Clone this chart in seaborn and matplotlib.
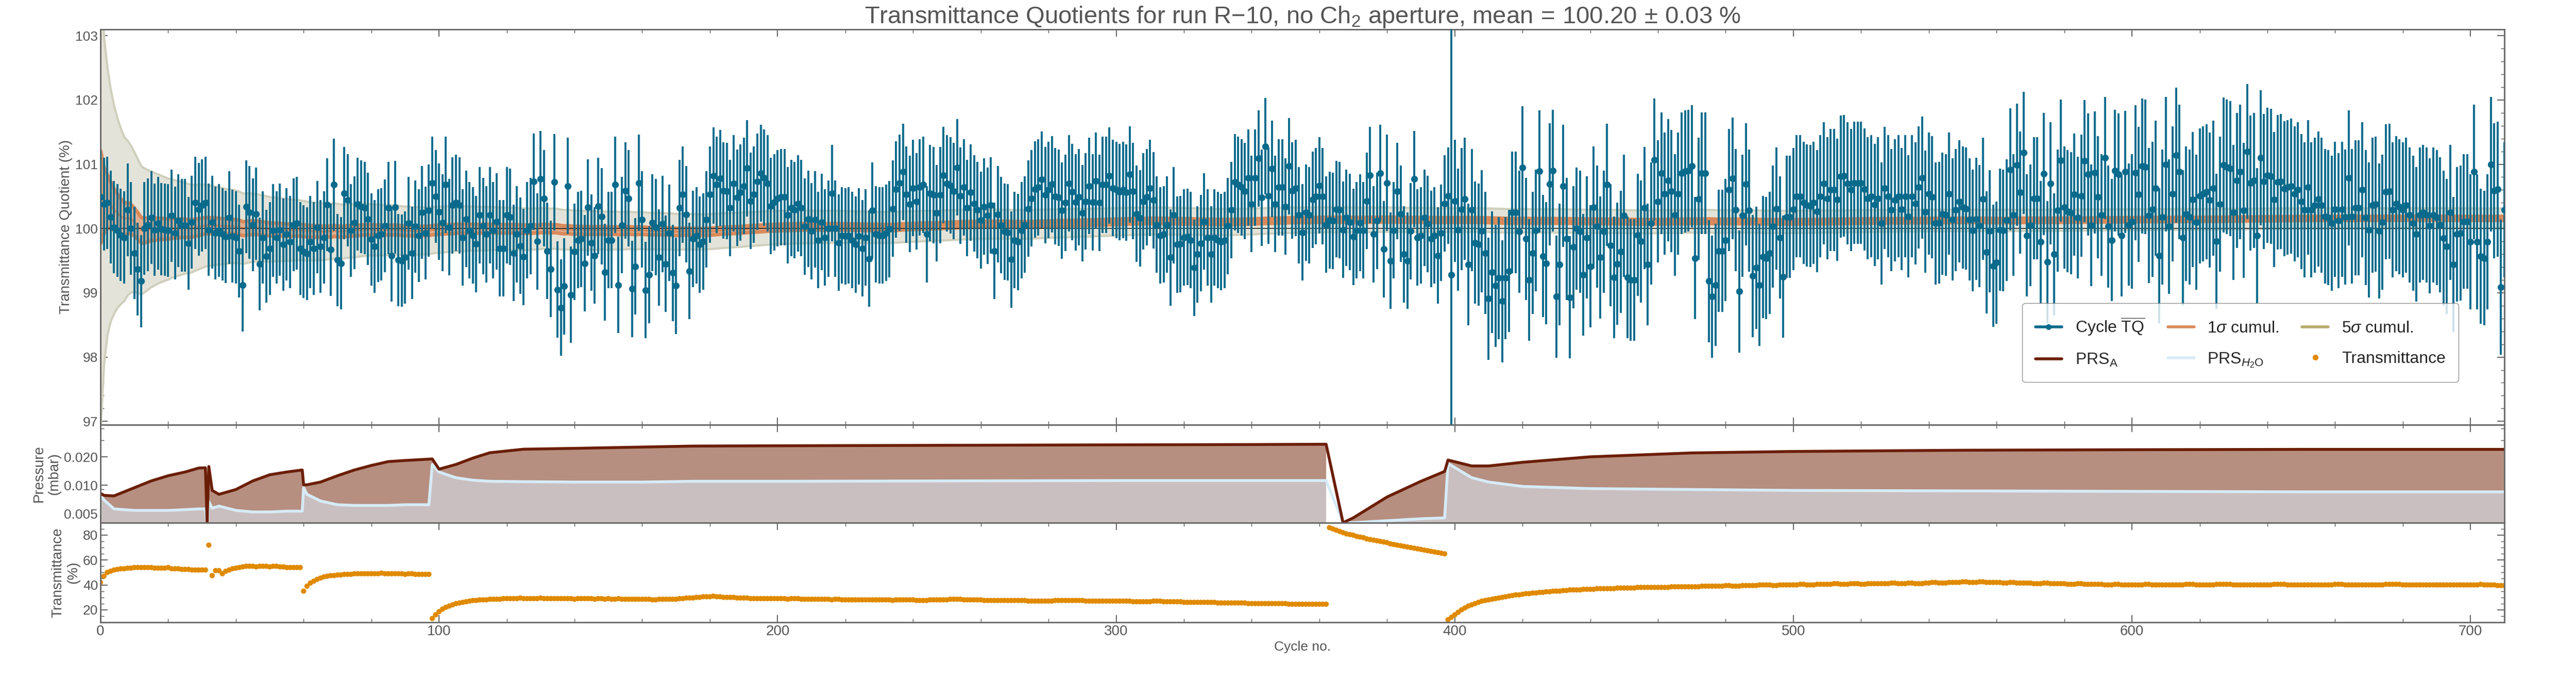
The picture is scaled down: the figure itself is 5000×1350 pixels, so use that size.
import numpy as np
import seaborn as sns
import matplotlib
matplotlib.use('Agg')
import matplotlib.pyplot as plt
from matplotlib.lines import Line2D
from matplotlib.ticker import FixedLocator, MultipleLocator, LogLocator, NullFormatter

# transmittance quotient per cycle (%)
tq = [
    100.49, 100.38, 100.40, 100.18, 100.02, 99.97, 99.90, 99.86, 100.29, 100.00,
    99.62, 99.37, 99.18, 100.00, 100.06, 100.17, 99.98, 100.08, 99.99, 99.98,
    99.97, 100.20, 99.93, 100.12, 100.05, 100.05, 99.77, 100.10, 100.40, 100.30,
    100.36, 100.40, 99.98, 100.10, 99.93, 99.97, 99.91, 99.87, 100.17, 99.88,
    99.86, 99.65, 99.12, 100.34, 100.25, 100.06, 100.23, 99.45, 99.86, 99.57,
    99.69, 99.97, 99.86, 99.98, 99.75, 99.91, 99.79, 100.06, 100.08, 99.69,
    99.64, 99.61, 99.79, 99.69, 100.02, 99.72, 99.86, 100.37, 99.67, 100.68,
    99.51, 99.46, 100.55, 100.44, 99.97, 100.09, 100.38, 100.34, 100.32, 100.15,
    99.83, 99.72, 99.89, 99.91, 100.04, 100.32, 99.58, 100.33, 99.51, 99.50,
    99.55, 100.08, 99.62, 100.03, 99.89, 100.25, 99.93, 100.28, 100.71, 100.50,
    100.26, 100.09, 100.68, 100.02, 100.36, 100.40, 100.36, 99.86, 100.15, 99.97,
    99.89, 99.76, 100.21, 100.04, 99.91, 100.21, 99.97, 100.11, 99.69, 99.69,
    100.21, 100.18, 99.62, 99.91, 99.73, 99.56, 99.97, 100.04, 100.73, 99.80,
    100.77, 100.47, 99.65, 99.37, 100.72, 99.05, 98.77, 99.10, 100.66, 98.97,
    99.64, 99.82, 99.84, 99.46, 100.33, 99.78, 99.58, 100.35, 100.19, 99.32,
    99.82, 99.82, 100.68, 99.12, 100.05, 100.59, 100.47, 99.06, 99.41, 100.71,
    100.14, 99.04, 99.28, 100.09, 100.02, 99.55, 100.07, 99.45, 99.93, 99.31,
    99.11, 100.32, 100.53, 100.22, 99.34, 99.84, 99.89, 99.75, 99.80, 100.14,
    100.53, 100.82, 100.68, 100.78, 100.59, 100.58, 100.32, 100.70, 100.48, 100.56,
    100.66, 100.94, 100.43, 100.53, 100.73, 100.86, 100.79, 100.70, 100.35, 100.41,
    100.47, 100.49, 100.49, 100.21, 100.32, 100.29, 100.39, 100.32, 100.03, 100.15,
    99.96, 100.14, 99.82, 100.10, 99.86, 100.00, 100.55, 100.00, 99.78, 99.89,
    99.88, 99.89, 99.82, 99.75, 99.88, 99.69, 99.86, 99.53, 100.28, 99.91,
    99.89, 99.89, 99.93, 99.99, 100.31, 100.61, 100.71, 100.88, 100.53, 100.38,
    100.63, 100.42, 100.64, 100.68, 99.91, 100.55, 100.52, 100.24, 100.52, 100.83,
    100.70, 100.67, 100.58, 100.95, 100.51, 100.64, 100.32, 100.56, 100.39, 100.29,
    100.13, 100.34, 100.20, 100.36, 99.65, 100.22, 100.05, 99.95, 99.94, 99.52,
    99.82, 99.79, 99.97, 100.06, 100.31, 100.47, 100.61, 100.64, 100.76, 100.52,
    100.60, 100.69, 100.50, 100.48, 100.28, 100.40, 100.70, 100.57, 100.41, 100.49,
    100.24, 100.42, 100.66, 100.41, 100.74, 100.40, 100.68, 100.68, 100.82, 100.63,
    100.60, 100.57, 100.60, 100.56, 100.84, 100.58, 100.23, 100.16, 100.42, 100.49,
    100.63, 100.44, 100.06, 99.89, 99.91, 100.06, 99.55, 100.21, 99.75, 99.76,
    99.86, 99.87, 99.82, 99.39, 99.60, 99.77, 100.11, 99.86, 99.60, 99.86,
    99.82, 99.79, 99.82, 100.04, 100.29, 100.72, 100.68, 100.64, 100.58, 100.79,
    100.38, 100.79, 101.09, 100.48, 101.28, 100.51, 100.93, 100.38, 100.64, 100.64,
    100.34, 100.97, 100.59, 100.63, 100.21, 99.94, 100.25, 100.21, 100.45, 100.50,
    100.67, 100.50, 100.06, 100.13, 100.12, 100.30, 100.29, 99.98, 100.17, 100.10,
    99.87, 99.97, 100.09, 99.97, 100.43, 100.83, 99.91, 100.12, 100.86, 99.68,
    100.71, 99.50, 99.97, 100.58, 100.23, 99.60, 99.50, 99.96, 100.77, 99.86,
    99.89, 100.17, 100.07, 99.84, 99.89, 99.58, 99.93, 100.39, 100.51, 99.28,
    100.43, 99.98, 100.30, 100.46, 99.44, 100.29, 99.78, 99.75, 99.96, 99.62,
    98.91, 99.32, 99.11, 99.23, 98.87, 99.23, 99.34, 100.25, 100.25, 99.95,
    100.95, 99.84, 99.20, 99.62, 99.97, 100.89, 99.57, 99.46, 100.69, 100.90,
    98.94, 99.44, 100.66, 99.84, 98.93, 99.71, 100.00, 99.95, 99.28, 99.86,
    99.41, 100.33, 100.03, 99.55, 99.95, 100.68, 99.74, 99.24, 99.45, 99.64,
    100.20, 99.24, 99.20, 99.20, 99.90, 99.80, 100.32, 99.44, 100.08, 101.07,
    100.42, 100.86, 100.54, 100.75, 100.58, 100.21, 100.54, 100.86, 100.89, 100.90,
    100.97, 99.54, 100.46, 100.86, 100.86, 99.18, 98.94, 99.12, 99.65, 99.65,
    99.82, 100.60, 100.78, 100.29, 99.02, 100.20, 100.69, 100.28, 99.26, 99.39,
    99.12, 99.56, 99.54, 99.62, 100.03, 100.31, 99.86, 99.25, 100.18, 100.18,
    100.30, 100.50, 100.50, 100.40, 100.36, 100.35, 100.40, 100.27, 100.50, 100.70,
    100.47, 100.60, 100.60, 100.45, 100.81, 100.82, 100.70, 100.60, 100.71, 100.71,
    100.71, 100.61, 100.47, 100.50, 100.37, 100.47, 100.08, 100.63, 100.50, 100.29,
    100.44, 100.50, 100.30, 100.50, 100.19, 100.50, 100.39, 100.64, 100.79, 100.26,
    100.54, 100.49, 100.08, 100.09, 100.23, 100.21, 100.54, 100.14, 100.29, 100.42,
    100.33, 100.31, 100.14, 99.97, 100.15, 100.04, 100.46, 99.63, 99.96, 99.42,
    99.47, 99.98, 99.97, 100.13, 100.92, 100.21, 100.99, 100.56, 101.18, 99.89,
    100.05, 100.47, 100.47, 99.79, 100.85, 99.48, 100.70, 99.60, 100.28, 101.06,
    100.33, 100.27, 100.24, 100.53, 100.17, 100.51, 101.05, 100.84, 100.05, 100.87,
    100.49, 100.21, 101.10, 100.03, 99.82, 100.90, 100.84, 99.89, 100.88, 100.06,
    100.11, 100.87, 100.53, 100.97, 100.96, 100.20, 100.30, 100.63, 99.58, 100.18,
    101.00, 100.03, 100.54, 101.14, 100.88, 99.86, 100.23, 100.18, 100.45, 100.10,
    100.51, 100.54, 100.57, 100.44, 100.63, 99.80, 100.38, 100.99, 100.96, 100.93,
    100.25, 100.75, 100.88, 100.28, 101.20, 100.71, 100.75, 99.89, 101.10, 100.73,
    100.83, 100.81, 100.45, 100.72, 100.73, 100.62, 100.64, 100.66, 100.54, 100.60,
    100.42, 100.29, 100.64, 100.29, 100.36, 100.46, 100.36, 100.19, 100.17, 100.08,
    100.30, 100.12, 100.30, 100.18, 100.79, 100.19, 100.32, 100.32, 100.60, 100.17,
    99.98, 100.36, 100.38, 99.96, 100.10, 100.57, 100.58, 100.29, 100.39, 100.34,
    100.29, 100.36, 100.21, 100.08, 99.91, 100.21, 100.25, 100.21, 100.04, 100.21,
    100.17, 100.06, 99.85, 99.72, 100.25, 99.44, 99.91, 99.93, 100.11, 100.11,
    99.79, 100.88, 99.79, 99.57, 99.54, 99.79, 101.00, 100.59, 100.61, 99.09,
    100.29,
]
# error bar half widths, read per block of cycles
err_block_start = [0, 100, 200, 300, 400, 500, 600]
err_block_value = [0.72, 0.75, 0.75, 0.75, 0.95, 0.95, 1.05]
err_big_cycle = 399
err_big_value = 4.0

# transmittance per cycle (%)
transmittance = [
    42, 47, 50, 51, 52, 52.5, 53, 53, 53.5, 53.5, 54, 54, 54, 54, 54, 54, 53.5, 53.5, 53.5, 53.5,
    54, 53, 53, 53, 52.5, 52.5, 52.5, 52, 52, 52, 52, 52,
    72,
    47.5, 51.5, 51.5, 49, 51, 52, 53, 53.5, 54, 54.5, 55, 55, 55, 54.5, 55, 55, 55, 54.5, 55, 55,
    54.5, 54.5, 54, 54, 54, 54, 54,
    35, 39, 41.5, 43, 44.5, 45.5, 46.5, 47, 47.5, 47.5, 48, 48, 48.5, 48.5, 48.5, 49, 49, 49, 49, 49,
    49, 49, 49, 49.5, 49, 49, 49, 49, 49, 49, 48.5, 49, 49, 48.5, 48.5, 48.5, 48.5, 48.5,
    13, 16, 18.5, 20.5, 22, 23, 24, 25, 25.5, 26, 26.5, 27, 27.5, 27.5, 28, 28, 28, 28.5, 28.5, 28.5,
    28.5, 29, 29, 29, 29, 29, 29.5, 29, 29, 29, 29, 29, 29.5, 29, 29, 29, 29, 29, 29, 29,
    29, 29, 28.5, 29, 29, 29, 29, 29, 28.5, 29, 29, 28.5, 29, 28.5, 28.5, 29, 28.5, 28.5, 28.5, 28.5,
    28.5, 28.5, 28.5, 28.5, 28.5, 28, 28, 28.5, 28.5, 28.5, 28.5, 28.5, 28.5, 29, 29, 29.5, 29.5, 29.5, 30, 30,
    30.5, 30.5, 30.5, 31, 30.5, 30.5, 30, 30, 30, 30, 29.5, 29.5, 29.5, 29.5, 29, 29, 29, 29, 29, 29,
    29, 29, 29, 29, 29, 28.5, 29, 29, 29, 28.5, 28.5, 28.5, 28.5, 28.5, 28.5, 28.5, 28.5, 28.5, 28, 28.5,
    28.5, 28, 28, 28, 28, 28, 28, 28, 28, 28, 28, 28, 28, 28, 28, 28, 27.5, 28, 28, 28,
    28, 28, 28, 27.5, 27.5, 27.5, 27.5, 28, 28, 28, 28, 28, 28, 28.5, 28.5, 28.5, 28.5, 28, 28, 28,
    28, 28, 28, 27.5, 27.5, 27.5, 27.5, 27.5, 27.5, 27.5, 27.5, 27.5, 27.5, 27.5, 27.5, 27.5, 27, 27, 27, 27,
    27, 27, 27, 27, 27.5, 27.5, 27.5, 27.5, 27.5, 27.5, 27.5, 27.5, 27.5, 27, 27, 27, 27, 27, 27, 27,
    27, 27, 27, 27, 27, 27, 27, 26.5, 26.5, 26.5, 26.5, 26.5, 26.5, 27, 27, 27, 26.5, 26.5, 26.5, 26.5,
    26.5, 26.5, 26, 26, 26, 26, 26, 26, 26, 26, 26, 26, 25.5, 25.5, 25.5, 25.5, 25.5, 25.5, 25.5, 25.5,
    25.5, 25, 25, 25, 25, 25, 25, 25, 25, 25, 25, 25, 25, 24.5, 24.5, 24.5, 24.5, 24.5, 24.5, 24.5,
    24.5, 24.5, 24.5, 24.5, 24.5,
    86, 85, 84, 83, 82, 81, 80.5, 80, 79, 78.5, 78, 77, 76.5, 76, 75.5, 75, 74.5, 74, 73, 72.5,
    72, 71.5, 71, 70.5, 70, 69.5, 69, 68.5, 68, 67.5, 67, 66.5, 66, 65.5, 65,
    12, 14, 16, 18, 20, 21.5, 23, 24, 25, 26, 27, 27.5, 28, 28.5, 29, 29.5, 30, 30.5, 31, 31.5,
    32, 32, 32.5, 33, 33, 33.5, 33.5, 34, 34, 34.5, 34.5, 35, 35, 35, 35.5, 35.5, 36, 36, 36, 36,
    36.5, 36.5, 36.5, 36.5, 37, 37, 37, 37, 37, 37, 37.5, 37.5, 37.5, 37.5, 37.5, 37.5, 38, 38, 38, 38,
    38, 38, 38, 38, 38, 38, 38.5, 38.5, 38.5, 38.5, 38.5, 38.5, 38.5, 38.5, 38.5, 39, 39, 39, 39, 39,
    39, 39, 39.5, 39.5, 39, 39, 39, 39.5, 39.5, 39.5, 39.5, 39.5, 40, 40, 40, 40, 39.5, 39.5, 40, 40,
    40, 40, 40, 40, 40.5, 40.5, 40, 40, 40, 40.5, 40.5, 40.5, 40.5, 40.5, 41, 41, 40.5, 40.5, 40.5, 41,
    41, 41, 40.5, 40.5, 41, 41, 41, 41, 41, 41, 41, 41.5, 41.5, 41, 41, 41, 41.5, 41.5, 41, 41,
    41, 41.5, 41.5, 42, 42, 41.5, 41.5, 41.5, 42, 42, 42, 42, 42.5, 42.5, 42, 42, 42, 42.5, 42.5, 42,
    42, 42, 42, 42, 41.5, 41.5, 42, 42, 41.5, 41.5, 41.5, 41.5, 41.5, 41, 41, 41, 41.5, 41.5, 41, 41,
    41, 41, 41, 40.5, 40.5, 40.5, 41, 41, 40.5, 40.5, 40.5, 40.5, 40.5, 40.5, 40, 40, 40, 40.5, 40.5, 40,
    40, 40, 40, 40, 40, 40, 40.5, 40.5, 40, 40, 40, 40, 40, 40, 40, 40, 40, 40, 40.5, 40.5,
    40.5, 40, 40, 40, 40, 40, 40, 40.5, 40.5, 40.5, 40.5, 40.5, 40, 40, 40, 40, 40, 40, 40, 40,
    40, 40, 40, 40, 40.5, 40.5, 40.5, 40.5, 40, 40, 40, 40, 40, 40, 40, 40, 40, 40, 40, 40,
    40, 40, 40.5, 40.5, 40.5, 40, 40, 40, 40, 40, 40, 40, 40, 40, 40, 40, 40, 40.5, 40.5, 40.5,
    40.5, 40.5, 40, 40, 40, 40, 40, 40, 40, 40, 40, 40, 40, 40, 40, 40, 40, 40, 40, 40,
    40, 40, 40, 40, 40, 40.5, 40, 40, 40, 40, 39.5, 39.5, 39.5,
]

# pressure readings (mbar) at selected cycles
prs_cycle = [0, 1, 4, 10, 15, 20, 25, 29, 31, 31.5, 32, 33, 35, 40, 45, 50, 55, 59.6, 60, 61,
             65, 70, 75, 80, 85, 90, 97, 98, 100, 105, 110, 115, 125, 140, 160, 175, 200, 250,
             300, 340, 362, 364, 367, 370, 380, 390, 397, 398, 405, 410, 420, 440, 470, 500,
             550, 600, 650, 700, 710]
prs_a = [.0082, .0078, .0077, .0094, .0111, .0126, .0138, .0152, .0153, .0040, .0158, .0088,
         .0080, .0090, .0111, .0129, .0138, .0145, .0101, .0101, .0108, .0126, .0145, .0162,
         .0178, .0183, .0189, .0190, .0148, .0166, .0194, .0221, .0241, .0246, .0254, .0260,
         .0262, .0265, .0268, .0270, .0272, np.nan, .0040, .0045, .0075, .0110, .0140, .0185,
         .0160, .0160, .0175, .0200, .0220, .0228, .0235, .0238, .0240, .0240, .0240]
prs_h2o = [.0081, .0070, .0056, .0054, .0054, .0054, .0055, .0056, .0056, .0040, .0067, .0057,
           .0060, .0054, .0052, .0052, .0053, .0053, .0094, .0080, .0068, .0062, .0061, .0061,
           .0061, .0062, .0062, .0166, .0138, .0120, .0113, .0110, .0109, .0108, .0108, .0110,
           .0110, .0111, .0112, .0112, .0112, np.nan, .0040, .0040, .0042, .0044, .0045, .0170,
           .0120, .0108, .0097, .0092, .0090, .0088, .0087, .0086, .0085, .0085, .0085]

title = r'Transmittance Quotients for run R$-$10, no Ch$_2$ aperture, mean$\,=\,$100.20$\,\pm$'
c_tq = '#0a6a8c'
c_1s = '#d9895a'
c_5s = '#b8ab6c'
c_a = '#6b1e06'
c_h = '#d6ebf7'
c_tr = '#e08a00'
c_txt = '#555555'

sns.set_style('ticks')
plt.rcParams['font.family'] = ['Liberation Sans', 'DejaVu Sans']
plt.rcParams['mathtext.fontset'] = 'custom'
plt.rcParams['mathtext.rm'] = 'Liberation Sans'
plt.rcParams['mathtext.it'] = 'Liberation Sans:italic'

cycles = np.arange(len(tq))
tq_arr = np.array(tq)
err = np.array(err_block_value)[np.searchsorted(err_block_start, cycles, side='right') - 1]
err[err_big_cycle] = err_big_value

# cumulative weighted mean and its uncertainty
w = 1 / err ** 2
cum_mean = np.cumsum(w * tq_arr) / np.cumsum(w)
cum_sig = 1 / np.sqrt(np.cumsum(w))

fig = plt.figure(figsize=(50, 13.5), dpi=100)
left, width = 0.039, 0.9332
ax1 = fig.add_axes([left, 0.390, width, 0.568])
ax2 = fig.add_axes([left, 0.249, width, 0.141], sharex=ax1)
ax3 = fig.add_axes([left, 0.106, width, 0.143], sharex=ax1)

# main panel
ax1.fill_between(cycles, cum_mean - 5 * cum_sig, cum_mean + 5 * cum_sig,
                 color='#e3e3d9', edgecolor='#cfcfbd', linewidth=3, zorder=1)
ax1.fill_between(cycles, cum_mean - cum_sig, cum_mean + cum_sig,
                 color='#dfae90', edgecolor=c_1s, linewidth=5, zorder=2)
ax1.plot(cycles, cum_mean, color=c_1s, lw=3, zorder=2)
ax1.axhline(100, color='#222222', lw=1.2, zorder=3)
ax1.errorbar(cycles, tq_arr, yerr=err, fmt='o', color=c_tq, ms=8.5, elinewidth=2.8,
             capsize=0, zorder=4)
ax1.set_ylim(96.95, 103.1)
ax1.set_yticks([97, 98, 99, 100, 101, 102, 103])
ax1.yaxis.set_minor_locator(MultipleLocator(0.2))
ax1.set_ylabel('Transmittance Quotient (%)', fontsize=20, color=c_txt)
ax1.set_title(title + r'$\,$0.03 %', fontsize=34, color=c_txt, pad=6)

# pressure panel
pc = np.array(prs_cycle)
pa = np.array(prs_a)
ph = np.array(prs_h2o)
ok = ~np.isnan(pa)
ax2.fill_between(pc, 1e-4, pa, where=ok, color='#b68f80', lw=0, interpolate=False)
ax2.fill_between(pc, 1e-4, ph, where=ok, color='#cabfc0', lw=0, interpolate=False)
sns.lineplot(x=pc, y=ph, ax=ax2, color=c_h, lw=4, sort=False)
sns.lineplot(x=pc, y=pa, ax=ax2, color=c_a, lw=4, sort=False)
ax2.set_yscale('log')
ax2.set_ylim(0.004, 0.044)
ax2.yaxis.set_major_locator(FixedLocator([0.005, 0.010, 0.020]))
ax2.yaxis.set_major_formatter(matplotlib.ticker.FixedFormatter(['0.005', '0.010', '0.020']))
ax2.yaxis.set_minor_locator(LogLocator(subs=np.arange(1, 10)))
ax2.yaxis.set_minor_formatter(NullFormatter())
ax2.set_ylabel('Pressure\n(mbar)', fontsize=20, color=c_txt)

# transmittance panel
sns.scatterplot(x=cycles, y=transmittance, ax=ax3, color=c_tr, s=55, edgecolor='none')
ax3.set_ylim(10, 90)
ax3.set_yticks([20, 40, 60, 80])
ax3.yaxis.set_minor_locator(MultipleLocator(5))
ax3.set_ylabel('Transmittance\n(%)', fontsize=20, color=c_txt)
ax3.set_xlabel('Cycle no.', fontsize=19, color=c_txt)

ax1.set_xlim(0, 710)
ax1.xaxis.set_major_locator(MultipleLocator(100))
ax1.xaxis.set_minor_locator(MultipleLocator(20))
for ax in (ax1, ax2, ax3):
    ax.tick_params(which='both', direction='in', top=True, right=True, colors=c_txt,
                   labelsize=19, labelcolor=c_txt)
    ax.tick_params(which='major', length=10, width=1.3)
    ax.tick_params(which='minor', length=5, width=1)
    for s in ax.spines.values():
        s.set_color('#666666')
        s.set_linewidth(2)
for ax in (ax1, ax2):
    ax.tick_params(labelbottom=False)
ax3.tick_params(axis='x', labelsize=20)

handles = [
    Line2D([], [], color=c_tq, lw=4, marker='o', ms=7),
    Line2D([], [], color=c_a, lw=4),
    Line2D([], [], color=c_1s, lw=4),
    Line2D([], [], color=c_h, lw=4),
    Line2D([], [], color=c_5s, lw=4),
    Line2D([], [], color=c_tr, lw=0, marker='o', ms=7),
]
labels = [r'Cycle $\overline{\rm TQ}$', r'PRS$_{\rm A}$', r'1$\sigma$ cumul.',
          r'PRS$_{H_2{\rm O}}$', r'5$\sigma$ cumul.', 'Transmittance']
ax1.legend(handles, labels, ncol=3, fontsize=23, frameon=True, fancybox=True,
           edgecolor='#777777', loc='lower right', bbox_to_anchor=(0.981, 0.107),
           handlelength=1.6, columnspacing=1.4, labelspacing=0.9, borderpad=0.8,
           borderaxespad=0)

fig.savefig('out.png', dpi=100)
